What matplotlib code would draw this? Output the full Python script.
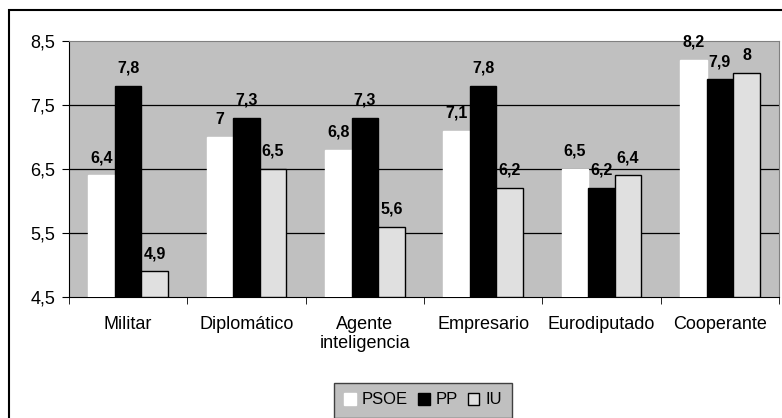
import numpy as np
import matplotlib.pyplot as plt
from matplotlib.patches import Rectangle

categories = ['Militar', 'Diplomático', 'Agente\ninteligencia', 'Empresario', 'Eurodiputado', 'Cooperante']
psoe = [6.4, 7.0, 6.8, 7.1, 6.5, 8.2]
pp = [7.8, 7.3, 7.3, 7.8, 6.2, 7.9]
iu = [4.9, 6.5, 5.6, 6.2, 6.4, 8.0]
series_names = ['PSOE', 'PP', 'IU']
y_ticks = [4.5, 5.5, 6.5, 7.5, 8.5]

plt.rcParams['font.family'] = ['Liberation Sans', 'DejaVu Sans']

fig = plt.figure(figsize=(7.82, 4.18), dpi=100)
ax = fig.add_axes([69/782, 1 - 297/418, 710/782, 256/418])
ax.set_facecolor('#c0c0c0')

x = np.arange(len(categories))
w = 0.225
styles = [('white', 'white'), ('black', 'black'), ('#e0e0e0', 'black')]
handles = []
for k, (vals, (fc, ec)) in enumerate(zip([psoe, pp, iu], styles)):
    bars = ax.bar(x + (k - 1) * w, [v - 4.5 for v in vals], w, bottom=4.5,
                  color=fc, edgecolor=ec, linewidth=1, zorder=3,
                  label=series_names[k])
    handles.append(bars)
    for xi, v in zip(x + (k - 1) * w, vals):
        txt = ('%g' % v).replace('.', ',')
        ax.text(xi, v + 0.16, txt, ha='center', va='bottom',
                fontsize=11.5, fontweight='bold', fontstretch='normal', zorder=4)

ax.set_xlim(-0.5, len(categories) - 0.5)
ax.set_ylim(4.5, 8.5)
ax.set_yticks(y_ticks)
ax.set_yticklabels([('%g' % t).replace('.', ',') for t in y_ticks], fontsize=13)
for t in y_ticks[1:-1]:
    ax.axhline(t, color='black', linewidth=0.9, zorder=1)

ax.set_xticks(x)
ax.set_xticklabels(categories, fontsize=13, linespacing=1.1)
ax.tick_params(axis='x', length=0, pad=14)
ax.set_xticks(np.arange(-0.5, len(categories) + 0.5, 1), minor=True)
ax.tick_params(axis='x', which='minor', length=5, direction='out', color='black')
ax.tick_params(axis='y', length=5, direction='out', color='black', pad=5)

for side in ['top', 'right']:
    ax.spines[side].set_color('#808080')
for side in ['left', 'bottom']:
    ax.spines[side].set_color('black')

leg = fig.legend(handles=handles, loc='center', bbox_to_anchor=(423/782, 1 - 400/418),
                 ncol=3, fontsize=12, frameon=True, fancybox=False,
                 handlelength=0.7, handleheight=0.7, handletextpad=0.35,
                 columnspacing=0.6, borderpad=0.6, borderaxespad=0)
leg.get_frame().set_facecolor('#c0c0c0')
leg.get_frame().set_edgecolor('#404040')
leg.get_frame().set_alpha(1)

fig.patches.append(Rectangle((9/782, -0.1), 1.2, 1.1 - 10/418, transform=fig.transFigure,
                             fill=False, edgecolor='black', linewidth=1.5))

fig.savefig('out.png', dpi=100)
